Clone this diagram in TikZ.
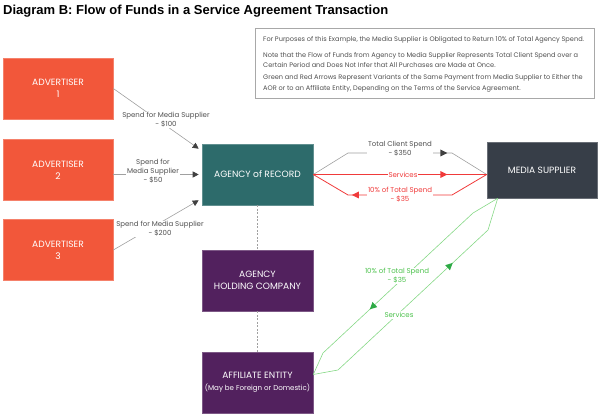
\documentclass[tikz,border=0pt]{standalone}
\usepackage{fontspec}
\setmainfont{Poppins}
\newfontfamily\titlefont{Liberation Sans}
\usetikzlibrary{arrows.meta,decorations.markings,calc}
\definecolor{advred}{HTML}{F2573A}
\definecolor{aorteal}{HTML}{2D6B6B}
\definecolor{msslate}{HTML}{373E48}
\definecolor{hpurple}{HTML}{52215E}
\definecolor{flowred}{HTML}{F03A3A}
\definecolor{flowgreen}{HTML}{86D886}
\definecolor{arrgreen}{HTML}{2DAA45}
\definecolor{txtgreen}{HTML}{4CC24C}
\definecolor{linegray}{HTML}{A0A0A0}
\definecolor{arrgray}{HTML}{404040}
\definecolor{txtgray}{HTML}{505050}
\definecolor{notegray}{HTML}{A8A8A8}
\tikzset{
  box/.style={minimum width=111pt, minimum height=61pt, inner sep=1pt, align=center,
    text=white, font=\fontsize{9.1}{12}\selectfont, draw=#1!75!white, fill=#1, line width=0.6pt},
  lbl/.style={fill=white, inner sep=1pt, align=center, font=\fontsize{7}{9}\selectfont, text=txtgray},
  notetext/.style={anchor=west, align=left, inner sep=0pt, font=\fontsize{6.6}{10.5}\selectfont, text=txtgray},
  feed/.style={draw=linegray, line width=0.6pt, -{Triangle[length=6pt,width=6pt,color=arrgray]}},
  grayline/.style={draw=linegray, line width=0.6pt},
  redline/.style={draw=flowred, line width=0.8pt},
  greenline/.style={draw=flowgreen, line width=0.6pt},
  midtip/.style 2 args={postaction={decorate, decoration={markings,
    mark=at position #1 with {\fill[#2] (3.5pt,0pt) -- (-3.5pt,3.5pt) -- (-3.5pt,-3.5pt) -- cycle;}}}},
  linkdash/.style={draw=linegray, line width=0.5pt, dash pattern=on 2pt off 1.5pt}
}
\begin{document}
\begin{tikzpicture}[x=1pt,y=-1pt]
\useasboundingbox (0,0) rectangle (600,419);
% title
\node[anchor=west, inner sep=0pt, font=\titlefont\bfseries\fontsize{13}{15}\selectfont] (title) at (3,11)
  {Diagram B: Flow of Funds in a Service Agreement Transaction};
% note box
\node[draw=notegray, line width=0.6pt, minimum width=339pt, minimum height=70pt, inner sep=0pt] (notebox) at (424.5,63) {};
\node[notetext] (note1) at (263,40) {For Purposes of this Example, the Media Supplier is Obligated to Return 10\% of Total Agency Spend.};
\node[notetext] (note2) at (263,60) {Note that the Flow of Funds from Agency to Media Supplier Represents Total Client Spend over a\\Certain Period and Does Not Infer that All Purchases are Made at Once.};
\node[notetext] (note3) at (263,83.5) {Green and Red Arrows Represent Variants of the Same Payment from Media Supplier to Either the\\AOR or to an Affiliate Entity, Depending on the Terms of the Service Agreement.};
% boxes
\node[box=advred, minimum width=110pt] (adv1) at (58,88.5) {ADVERTISER\\1};
\node[box=advred, minimum width=110pt] (adv2) at (58,170) {ADVERTISER\\2};
\node[box=advred, minimum width=110pt] (adv3) at (58,250) {ADVERTISER\\3};
\node[box=aorteal] (aor) at (257.5,174.5) {AGENCY of RECORD};
\node[box=msslate, minimum width=110pt, minimum height=56pt] (ms) at (542,170) {MEDIA SUPPLIER};
\node[box=hpurple] (ahc) at (257.5,280.5) {AGENCY\\HOLDING COMPANY};
\node[box=hpurple] (ae) at (257.5,382.5) {AFFILIATE ENTITY\\{\fontsize{7.1}{9}\selectfont(May be Foreign or Domestic)}};
% dashed links
\draw[linkdash] (aor.south) -- (ahc.north);
\draw[linkdash] (ahc.south) -- (ae.north);
% advertiser feeds
\draw[feed] (adv1.east) -- ([xshift=-3pt,yshift=-5pt]aor.north west);
\draw[feed] (adv2.east |- aor.west) -- ([xshift=-3pt]aor.west);
\draw[feed] (adv3.east) -- ([xshift=-3pt,yshift=5pt]aor.south west);
\node[lbl] (l1) at (166,120) {Spend for Media Supplier\\- \$100};
\node[lbl] (l2) at (153,171) {Spend for\\Media Supplier\\- \$50};
\node[lbl] (l3) at (160,229) {Spend for Media Supplier\\- \$200};
% AOR <-> media supplier
\coordinate (msin) at (ms.west |- aor.east);
\coordinate (g1) at (348,153);
\coordinate (g2) at (452,153);
\coordinate (r1) at (452,195);
\coordinate (r2) at (348,195);
\draw[grayline, midtip={136.6pt}{arrgray}] (aor.east) -- (g1) -- (g2) -- (msin);
\draw[redline, midtip={130.5pt}{flowred}] (aor.east) -- (msin);
\draw[redline, midtip={137pt}{flowred}] (msin) -- (r1) -- (r2) -- (aor.east);
\node[lbl] (lt) at (400,148.5) {Total Client Spend\\- \$350};
\node[lbl, text=flowred] (ls) at (403,174.5) {Services};
\node[lbl, text=flowred] (lr) at (400,194.5) {10\% of Total Spend\\- \$35};
% media supplier <-> affiliate entity
\coordinate (msout) at ([xshift=11pt]ms.south west);
\coordinate (aein) at ([yshift=8pt]ae.east);
\coordinate (ga1) at (473,213);
\coordinate (ga2) at (323,353);
\coordinate (gb1) at (338,370);
\coordinate (gb2) at (488,230);
\draw[greenline, midtip={166.4pt}{arrgreen}] (msout) -- (ga1) -- (ga2) -- (aein);
\draw[greenline, midtip={178.5pt}{arrgreen}] (aein) -- (gb1) -- (gb2) -- (msout);
\node[lbl, text=txtgreen] (lga) at (397,276) {10\% of Total Spend\\- \$35};
\node[lbl, text=txtgreen] (lgb) at (399,315) {Services};
\end{tikzpicture}
\end{document}
